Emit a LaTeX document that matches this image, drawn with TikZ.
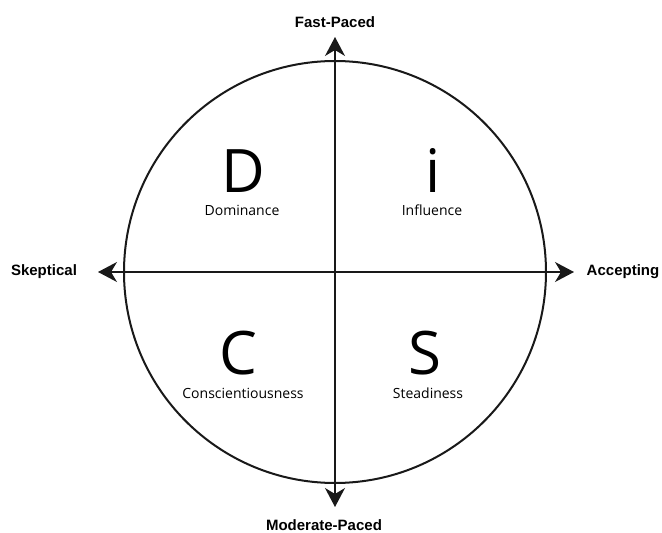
\documentclass[tikz,border=0pt]{standalone}
\usepackage{fontspec}
\setmainfont{Open Sans}
\newfontfamily\axisfont{Liberation Sans}
\usetikzlibrary{arrows.meta, positioning}

\begin{document}
\begin{tikzpicture}[x=1pt, y=1pt, >={Stealth[length=19pt, width=20pt, inset=6pt]},
        axis/.style={<->, line width=1.5pt, black!90},
        axislabel/.style={font=\axisfont\bfseries\fontsize{15}{18}\selectfont, inner sep=0pt},
        bigletter/.style={font=\fontsize{60}{72}\selectfont, inner sep=0pt, anchor=base, text depth=0pt},
        trait/.style={font=\fontsize{14}{17}\selectfont, inner sep=0pt, anchor=base}]
        \useasboundingbox (-335,-261) rectangle (327,272);
        \fill[white] (-335,-261) rectangle (327,272);

        \node[draw=black!90, circle, line width=2pt, minimum size=422pt, inner sep=0pt] (disc) at (0,0) {};
        \coordinate (fast) at (0,235);
        \coordinate (moderate) at (0,-235);
        \coordinate (skeptical) at (-237,0);
        \coordinate (accepting) at (239,0);

        \draw[axis] (moderate) -- (fast);
        \draw[axis] (skeptical) -- (accepting);

        \node[axislabel] (fastlbl) at (0,250) {Fast-Paced};
        \node[axislabel] (moderatelbl) at (-11,-253) {Moderate-Paced};
        \node[axislabel] (skepticallbl) at (-291,0) {Skeptical};
        \node[axislabel] (acceptinglbl) at (288,0) {Accepting};

        \node[bigletter] (D) at (-92,79) {D};
        \node[bigletter] (I) at (98,79) {i};
        \node[bigletter] (C) at (-97,-102) {C};
        \node[bigletter] (S) at (90,-102) {S};

        \node[trait] (Dlbl) at ([yshift=-23pt]D.base -| -93,0) {Dominance};
        \node[trait] (Ilbl) at ([yshift=-23pt]I.base -| 97,0) {Influence};
        \node[trait] (Clbl) at ([yshift=-24pt]C.base -| -92,0) {Conscientiousness};
        \node[trait] (Slbl) at ([yshift=-24pt]S.base -| 93,0) {Steadiness};
    \end{tikzpicture}
\end{document}
